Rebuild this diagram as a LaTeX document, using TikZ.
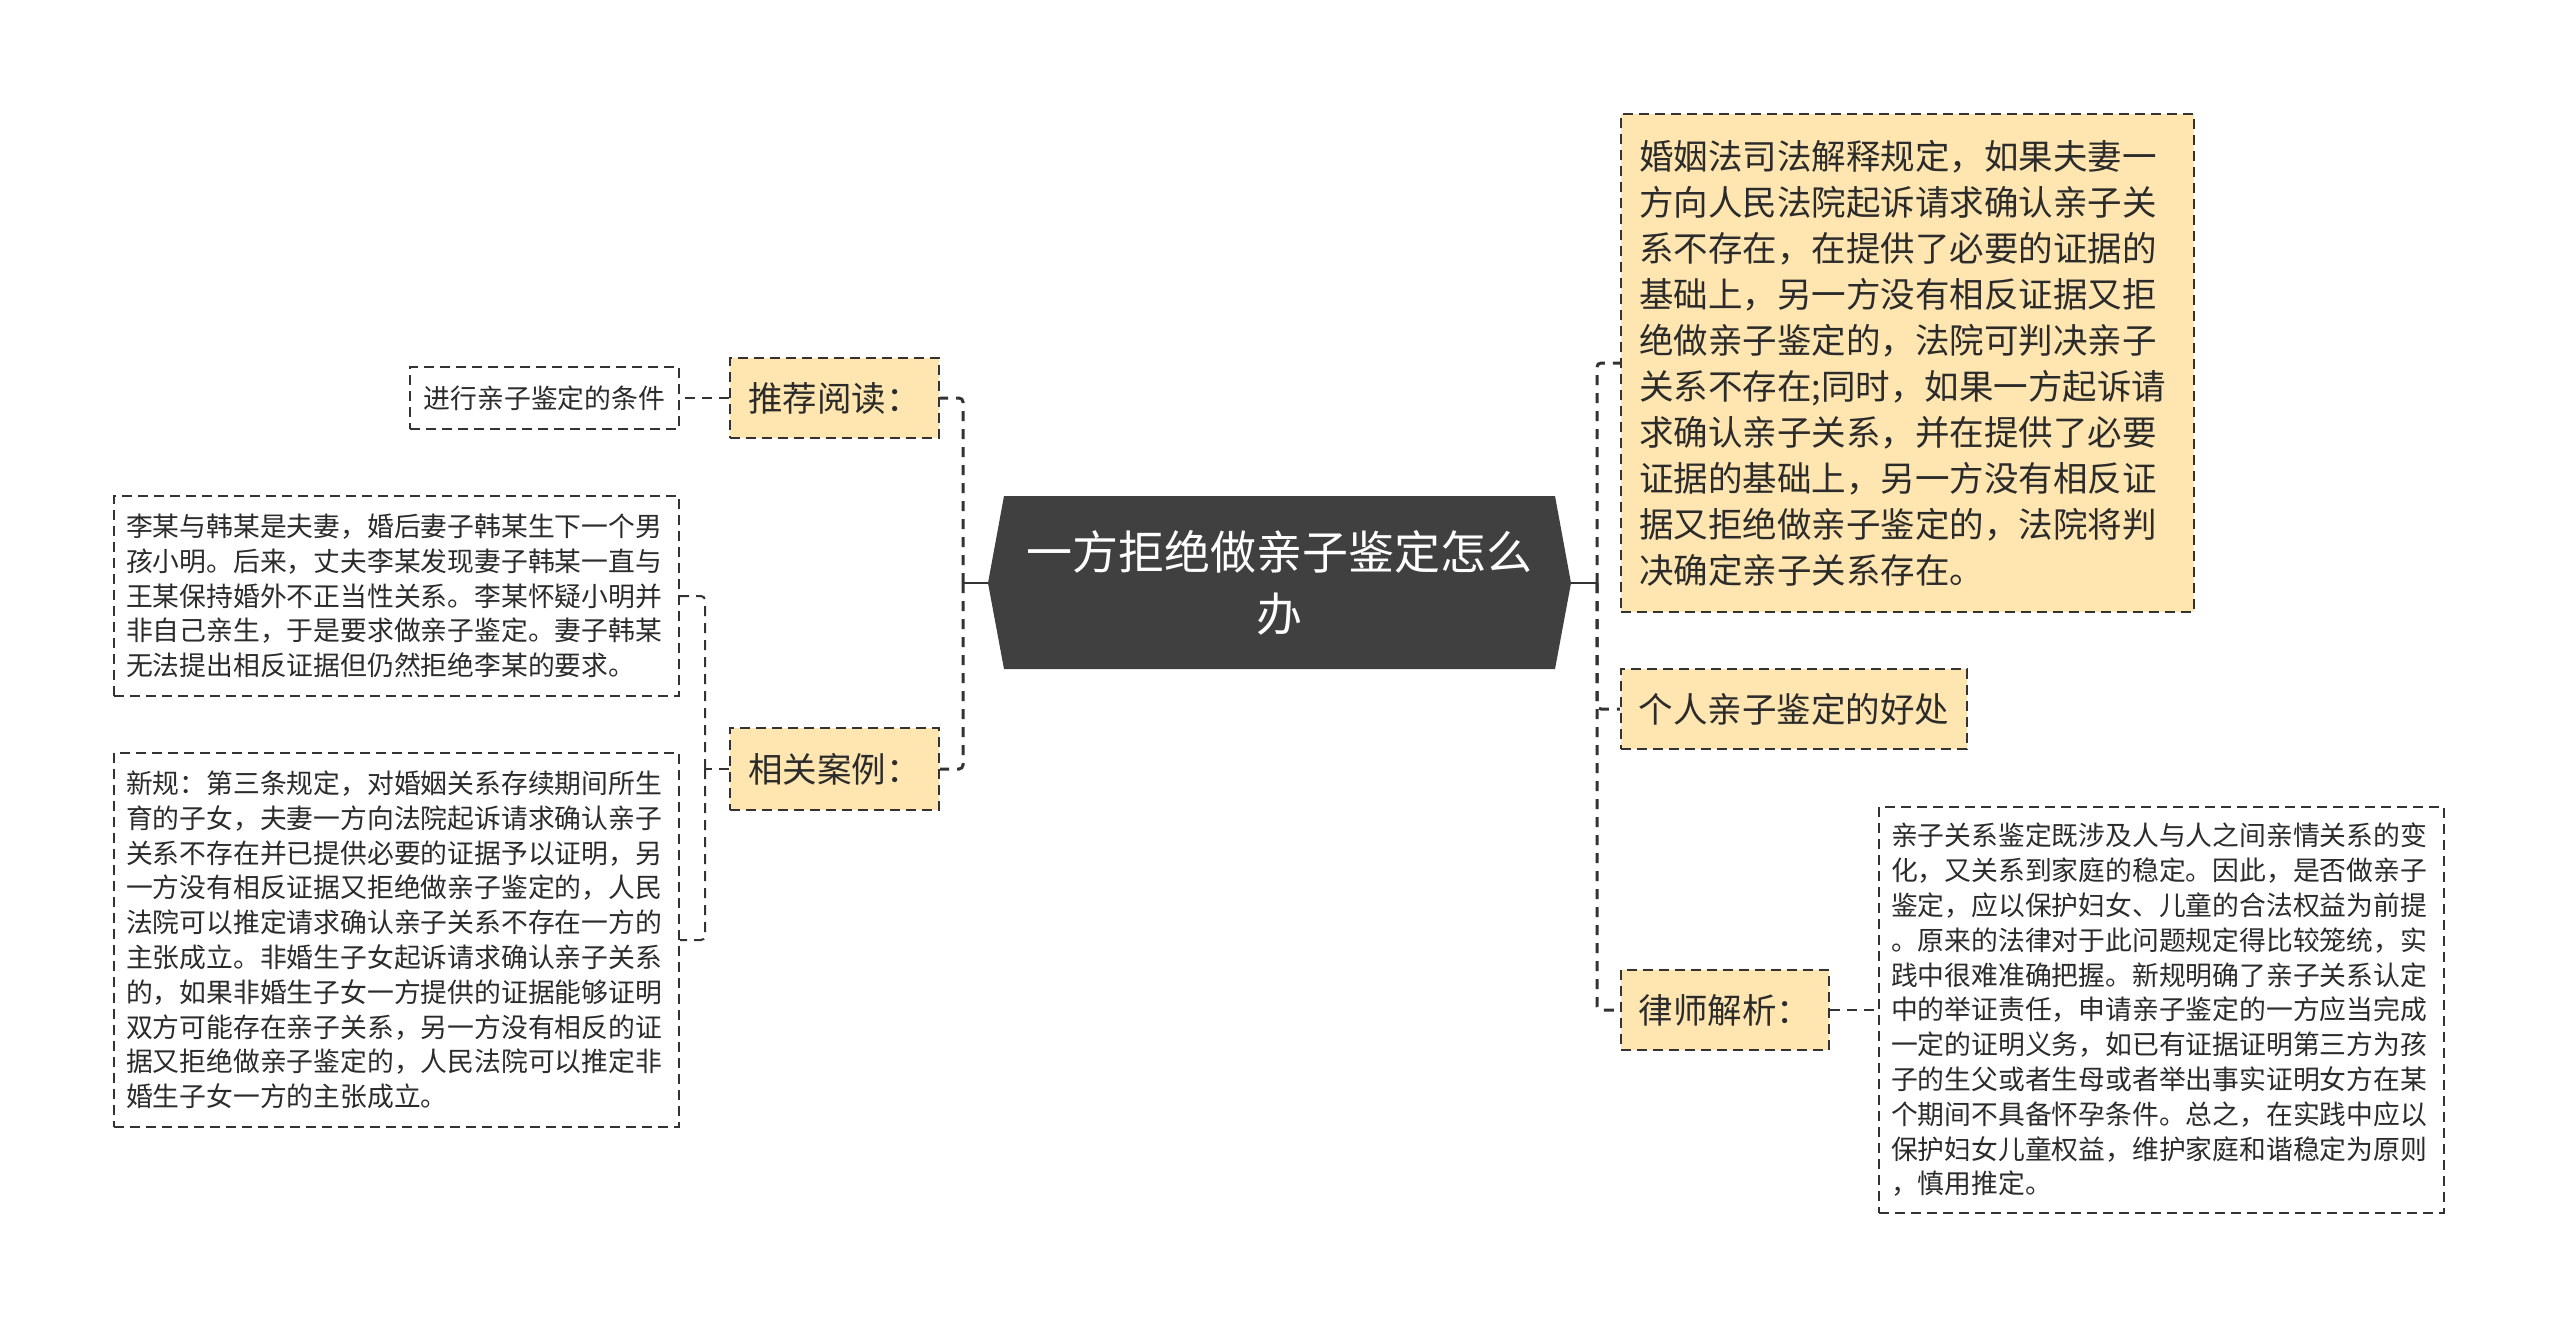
\documentclass[tikz,border=0pt]{standalone}
\usepackage{fontspec}
\newfontfamily\cjk{Noto Sans CJK SC}
\definecolor{lineC}{HTML}{333333}
\definecolor{fillY}{HTML}{FFE6B0}
\definecolor{fillD}{HTML}{404040}
\definecolor{txt}{HTML}{2B2B2B}
\begin{document}
\begin{tikzpicture}[x=1pt,y=-1pt,
 lvone/.style={draw=lineC, fill=fillY, line width=2.2pt, dash pattern=on 10pt off 6pt, inner xsep=18pt, inner ysep=0pt, align=left, font=\cjk\fontsize{34.5}{46}\selectfont, text=txt},
 lvtwo/.style={draw=lineC, fill=white, line width=2pt, dash pattern=on 10pt off 6pt, inner xsep=12pt, inner ysep=0pt, align=left, font=\cjk\fontsize{26.8}{34.8}\selectfont, text=txt},
 spine/.style={draw=lineC, line width=3pt, dash pattern=on 10pt off 8pt, rounded corners=4pt},
 twig/.style={draw=lineC, line width=2pt, dash pattern=on 10pt off 7pt, rounded corners=4pt},
 stem/.style={draw=lineC, line width=2.2pt},
]
\fill[white] (0,0) rectangle (2560,1330);
\useasboundingbox (0,0) rectangle (2560,1330);

% central topic
\fill[fillD] (988,583) -- (1004,496) -- (1555,496) -- (1571,583) -- (1555,669) -- (1004,669) -- cycle;
\node[font=\cjk\fontsize{46}{62}\selectfont, text=white, align=center, minimum width=551pt, minimum height=173pt, inner sep=0pt] (main) at (1279.5,583)
 {一方拒绝做亲子鉴定怎么\\办};
\coordinate (cl) at (988,583);
\coordinate (cr) at (1571,583);
\coordinate (rs) at (1597,583);
\coordinate (ls) at (963,583);
\coordinate (ls2) at (705,769);

% right side
\node[lvone, text width=537pt, minimum height=498pt] (big) at (1907.5,363)
 {婚姻法司法解释规定，如果夫妻一\\
方向人民法院起诉请求确认亲子关\\
系不存在，在提供了必要的证据的\\
基础上，另一方没有相反证据又拒\\
绝做亲子鉴定的，法院可判决亲子\\
关系不存在;同时，如果一方起诉请\\
求确认亲子关系，并在提供了必要\\
证据的基础上，另一方没有相反证\\
据又拒绝做亲子鉴定的，法院将判\\
决确定亲子关系存在。};
\node[lvone, minimum width=346pt, minimum height=80pt, inner xsep=0pt] (good) at (1794,709) {个人亲子鉴定的好处};
\node[lvone, minimum width=208pt, minimum height=80pt, inner xsep=0pt] (lawyer) at (1725,1010) {律师解析：};
\node[lvtwo, text width=541pt, minimum height=406pt] (lawbox) at (2161.5,1010)
 {亲子关系鉴定既涉及人与人之间亲情关系的变\\
化，又关系到家庭的稳定。因此，是否做亲子\\
鉴定，应以保护妇女、儿童的合法权益为前提\\
。原来的法律对于此问题规定得比较笼统，实\\
践中很难准确把握。新规明确了亲子关系认定\\
中的举证责任，申请亲子鉴定的一方应当完成\\
一定的证明义务，如已有证据证明第三方为孩\\
子的生父或者生母或者举出事实证明女方在某\\
个期间不具备怀孕条件。总之，在实践中应以\\
保护妇女儿童权益，维护家庭和谐稳定为原则\\
，慎用推定。};

% left side
\node[lvone, minimum width=209pt, minimum height=80pt, inner xsep=0pt] (tuijian) at (834.5,398) {推荐阅读：};
\node[lvone, minimum width=209pt, minimum height=82pt, inner xsep=0pt] (xiangguan) at (834.5,769) {相关案例：};
\node[lvtwo, minimum width=269pt, minimum height=62pt, inner xsep=0pt] (cond) at (544.5,398) {进行亲子鉴定的条件};
\node[lvtwo, text width=541pt, minimum height=200pt] (case1) at (396.5,596)
 {李某与韩某是夫妻，婚后妻子韩某生下一个男\\
孩小明。后来，丈夫李某发现妻子韩某一直与\\
王某保持婚外不正当性关系。李某怀疑小明并\\
非自己亲生，于是要求做亲子鉴定。妻子韩某\\
无法提出相反证据但仍然拒绝李某的要求。};
\node[lvtwo, text width=541pt, minimum height=374pt] (case2) at (396.5,940)
 {新规：第三条规定，对婚姻关系存续期间所生\\
育的子女，夫妻一方向法院起诉请求确认亲子\\
关系不存在并已提供必要的证据予以证明，另\\
一方没有相反证据又拒绝做亲子鉴定的，人民\\
法院可以推定请求确认亲子关系不存在一方的\\
主张成立。非婚生子女起诉请求确认亲子关系\\
的，如果非婚生子女一方提供的证据能够证明\\
双方可能存在亲子关系，另一方没有相反的证\\
据又拒绝做亲子鉴定的，人民法院可以推定非\\
婚生子女一方的主张成立。};

% connectors
\draw[stem] (cr) -- (rs);
\draw[spine] (rs) |- (big.west);
\draw[spine] (rs) |- (good.west);
\draw[spine] (rs) |- (lawyer.west);
\draw[twig] (lawyer.east) -- (lawbox.west);

\draw[stem] (cl) -- (ls);
\draw[spine] (ls) |- (tuijian.east);
\draw[spine] (ls) |- (xiangguan.east);
\draw[twig] (tuijian.west) -- (cond.east);
\draw[twig] (xiangguan.west) -- (ls2);
\draw[twig] (ls2) |- (case1.east);
\draw[twig] (ls2) |- (case2.east);
\end{tikzpicture}
\end{document}
